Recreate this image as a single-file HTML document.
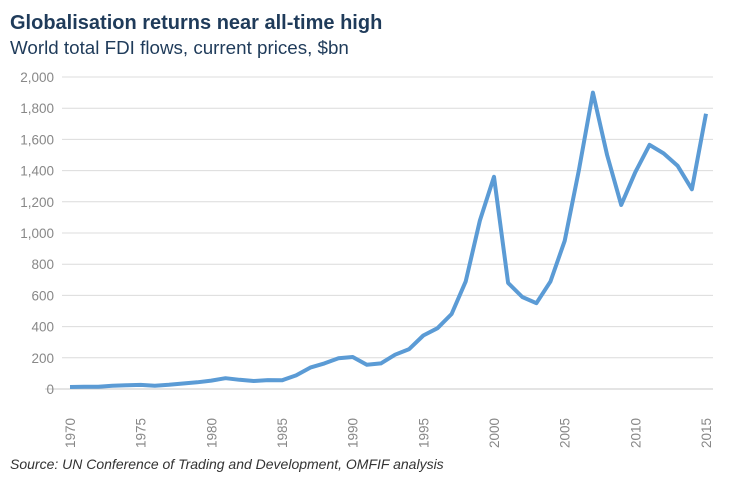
<!DOCTYPE html>
<html><head><meta charset="utf-8"><style>
body{margin:0;background:#fff;width:739px;height:498px;overflow:hidden;font-family:"Liberation Sans",sans-serif}
</style></head><body>
<svg width="739" height="498">
<text x="10" y="29" font-size="20" font-weight="bold" fill="#1f3b5a">Globalisation returns near all-time high</text>
<text x="10" y="54" font-size="18.8" fill="#1f3b5a">World total FDI flows, current prices, $bn</text>
<g id="grid"></g><g id="ylab"></g><g id="xlab"></g>
<path id="line" fill="none" stroke="#5b9bd5" stroke-width="4" stroke-linejoin="round"/>
<text x="10" y="469" font-size="14" font-style="italic" fill="#333">Source: UN Conference of Trading and Development, OMFIF analysis</text>
</svg>
<script>
const years=[1970,1971,1972,1973,1974,1975,1976,1977,1978,1979,1980,1981,1982,1983,1984,1985,1986,1987,1988,1989,1990,1991,1992,1993,1994,1995,1996,1997,1998,1999,2000,2001,2002,2003,2004,2005,2006,2007,2008,2009,2010,2011,2012,2013,2014,2015];
const fdi=[13,14,15,21,24,26,21,27,35,43,54,69,59,51,57,56,87,137,164,197,205,155,164,220,256,343,390,481,690,1080,1360,680,590,550,690,950,1400,1900,1500,1180,1390,1565,1510,1430,1280,1765];
const yTicks=[0,200,400,600,800,1000,1200,1400,1600,1800,2000];
const xTicks=[1970,1975,1980,1985,1990,1995,2000,2005,2010,2015];
const NS="http://www.w3.org/2000/svg";
const X=y=>70+(y-1970)*(706-70)/45;
const Y=v=>389-v*(389-77)/2000;
const grid=document.getElementById('grid'),yl=document.getElementById('ylab'),xl=document.getElementById('xlab');
yTicks.forEach(t=>{
 const l=document.createElementNS(NS,'line');
 l.setAttribute('x1',t===0?45:62);l.setAttribute('x2',713);l.setAttribute('y1',Y(t));l.setAttribute('y2',Y(t));
 l.setAttribute('stroke',t===0?'#c8c8c8':'#dcdcdc');l.setAttribute('stroke-width',1);
 
 
 grid.appendChild(l);
 const tx=document.createElementNS(NS,'text');
 tx.setAttribute('x',54);tx.setAttribute('y',Y(t)+5);tx.setAttribute('text-anchor','end');
 tx.setAttribute('font-size','13.5');tx.setAttribute('fill','#888');
 tx.textContent=t.toLocaleString('en-US');
 
 
 yl.appendChild(tx);
});
xTicks.forEach(t=>{
 const tx=document.createElementNS(NS,'text');
 tx.setAttribute('transform',`translate(${X(t)+5},433) rotate(-90)`);
 tx.setAttribute('text-anchor','middle');tx.setAttribute('font-size','13.5');tx.setAttribute('fill','#888');
 tx.textContent=t;
 
 
 xl.appendChild(tx);
});
document.getElementById('line').setAttribute('d',years.map((y,i)=>(i?'L':'M')+X(y).toFixed(1)+','+Y(fdi[i]).toFixed(1)).join(''));
</script>
</body></html>
